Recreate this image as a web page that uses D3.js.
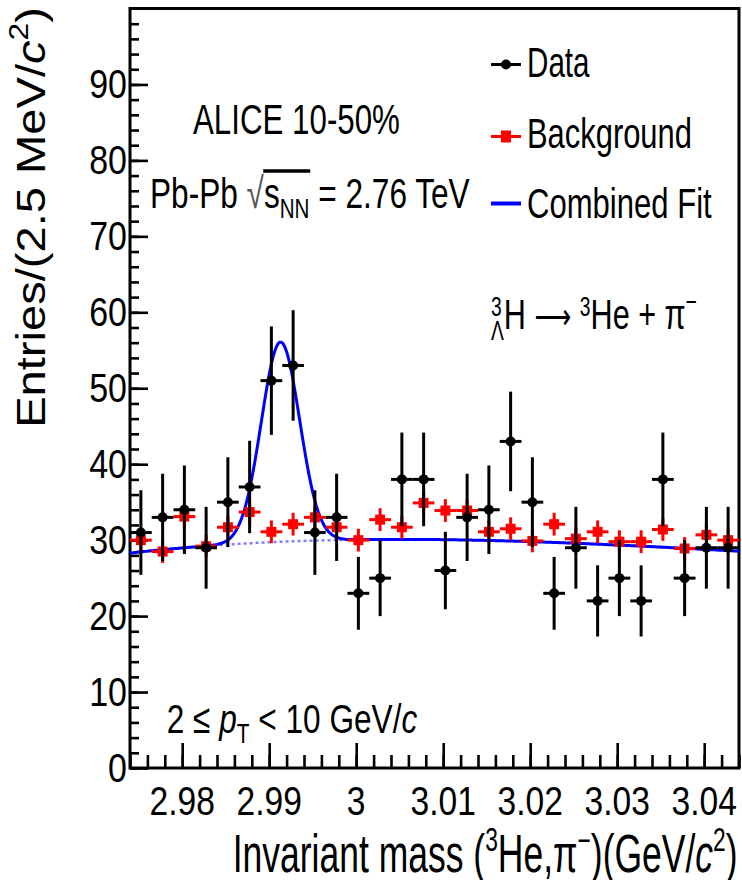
<!DOCTYPE html>
<html>
<head>
<meta charset="utf-8">
<script src="https://cdn.jsdelivr.net/npm/d3@7"></script>
<style>
body { margin: 0; background: #fff; }
text { font-family: "Liberation Sans", Arial, Helvetica, sans-serif; fill: #000; }
</style>
</head>
<body>
<svg id="chart" width="742" height="880"></svg>
<script>
// bin centres (GeV/c^2), 2.5 MeV bins
var massCenters = [2.97525, 2.97775, 2.98025, 2.98275, 2.98525, 2.98775, 2.99025, 2.99275,
                   2.99525, 2.99775, 3.00025, 3.00275, 3.00525, 3.00775, 3.01025, 3.01275,
                   3.01525, 3.01775, 3.02025, 3.02275, 3.02525, 3.02775, 3.03025, 3.03275,
                   3.03525, 3.03775, 3.04025, 3.04275];
var dataCounts = [31, 33, 34, 29, 35, 37, 51, 53, 31, 33, 23, 25, 38, 38,
                  26, 33, 34, 43, 35, 23, 29, 22, 25, 22, 38, 25, 29, 29];
var bgCounts = [30.0, 28.5, 33.1, 29.2, 31.7, 33.7, 31.1, 32.1, 33.0, 31.7, 30.0, 32.7, 31.7, 34.9,
                33.9, 33.9, 31.1, 31.5, 29.9, 32.1, 30.2, 31.1, 29.8, 29.8, 31.4, 28.9, 30.7, 30.0];
var bgErrors = [1.5, 1.5, 1.5, 1.5, 1.5, 1.5, 1.5, 1.5, 1.5, 1.5, 1.5, 1.5, 1.5, 1.5,
                1.5, 1.5, 1.5, 1.5, 1.5, 1.5, 1.5, 1.5, 1.5, 1.5, 1.5, 1.5, 1.5, 1.5];
var binWidth = 0.0025;

// combined fit: gaussian + pol3 background (v = (m - 3.005)/0.01)
var gaussPar = {mean: 2.9913, sigma: 0.0022, amp: 26.3};
var polPar = [30.1, 0.0003, -0.1495, 0.01218];

var xMajor = [2.98, 2.99, 3.00, 3.01, 3.02, 3.03, 3.04];
var xMajorLabels = ["2.98", "2.99", "3", "3.01", "3.02", "3.03", "3.04"];
var yMajor = [0, 10, 20, 30, 40, 50, 60, 70, 80, 90];

var svg = d3.select("#chart");
var padL = 130, padR = 739, padT = 8.5, padB = 768;

var x = d3.scaleLinear().domain([2.974, 3.044]).range([padL, padR]);
var y = d3.scaleLinear().domain([0, 100]).range([padB, padT]);

function bgFunc(m) {
    var v = (m - 3.005) / 0.01;
    return polPar[0] + polPar[1] * v + polPar[2] * v * v + polPar[3] * v * v * v;
}
function fitFunc(m) {
    var d = (m - gaussPar.mean) / gaussPar.sigma;
    return bgFunc(m) + gaussPar.amp * Math.exp(-0.5 * d * d);
}

// text squeezed horizontally to the width it has in the figure
function fitText(px, py, width, size, build, rotate) {
    var g = svg.append("g");
    var t = g.append("text").attr("font-size", size);
    build(t);
    var b = t.node().getBBox();
    var sx = width / b.width;
    if (rotate) {
        g.attr("transform", "translate(" + px + "," + (py + (b.x + b.width) * sx) + ") rotate(-90) scale(" + sx + ",1)");
    } else {
        g.attr("transform", "translate(" + (px - b.x * sx) + "," + py + ") scale(" + sx + ",1)");
    }
    return {g: g, t: t};
}

// ticks
var axisG = svg.append("g");
var minorX = d3.range(2.974, 3.0445, 0.002);
var minorY = d3.range(0, 100, 2);
axisG.append("g").attr("transform", "translate(0," + padB + ")")
    .call(d3.axisBottom(x).tickValues(minorX).tickSize(-13).tickFormat(""));
axisG.append("g").attr("transform", "translate(0," + padB + ")")
    .call(d3.axisBottom(x).tickValues(xMajor).tickSize(-25).tickFormat(""));
axisG.append("g").attr("transform", "translate(" + padL + ",0)")
    .call(d3.axisLeft(y).tickValues(minorY).tickSize(-9).tickFormat(""));
axisG.append("g").attr("transform", "translate(" + padL + ",0)")
    .call(d3.axisLeft(y).tickValues(yMajor).tickSize(-18).tickFormat(""));
axisG.selectAll(".domain").remove();
axisG.selectAll(".tick line").attr("stroke", "#000").attr("stroke-width", 2.6);

// frame
svg.append("rect").attr("x", padL).attr("y", padT).attr("width", padR - padL).attr("height", padB - padT)
    .attr("fill", "none").attr("stroke", "#000").attr("stroke-width", 3);

// tick labels
yMajor.forEach(function(v) {
    svg.append("text").attr("font-size", 40).attr("text-anchor", "end")
        .attr("transform", "translate(127," + (y(v) + 14) + ") scale(0.85,1)")
        .text(v);
});
xMajor.forEach(function(v, i) {
    svg.append("text").attr("font-size", 40).attr("text-anchor", "middle")
        .attr("transform", "translate(" + x(v) + ",815) scale(0.84,1)")
        .text(xMajorLabels[i]);
});

// axis titles
fitText(232.7, 872, 505, 53, function(t) {
    t.append("tspan").text("Invariant mass (");
    t.append("tspan").attr("font-size", 34).attr("dy", -21).text("3");
    t.append("tspan").attr("dy", 21).text("He,\u03c0");
    t.append("tspan").attr("font-size", 34).attr("dy", -20).text("\u2212");
    t.append("tspan").attr("dy", 20).text(")(GeV/");
    t.append("tspan").attr("font-style", "italic").text("c");
    t.append("tspan").attr("font-size", 34).attr("dy", -21).text("2");
    t.append("tspan").attr("dy", 21).text(")");
});
fitText(45, 7, 421, 40, function(t) {
    t.attr("text-anchor", "end");
    t.append("tspan").text("Entries/(2.5 MeV/");
    t.append("tspan").attr("font-style", "italic").text("c");
    t.append("tspan").attr("font-size", 27).attr("dy", -17).text("2");
    t.append("tspan").attr("dy", 17).text(")");
}, true);

// background component (dotted) and combined fit
var fine = d3.range(2.974, 3.04401, 0.0002);
svg.append("path").datum(fine)
    .attr("d", d3.line().x(function(m) { return x(m); }).y(function(m) { return y(bgFunc(m)); }))
    .attr("fill", "none").attr("stroke", "#7f7fff").attr("stroke-width", 2.5).attr("stroke-dasharray", "3,3");
svg.append("path").datum(fine)
    .attr("d", d3.line().x(function(m) { return x(m); }).y(function(m) { return y(fitFunc(m)); }))
    .attr("fill", "none").attr("stroke", "#0000ff").attr("stroke-width", 3);

// background points (red)
var half = binWidth / 2;
var bgG = svg.append("g").attr("stroke", "#ff0000").attr("fill", "#ff0000").attr("stroke-width", 3);
bgCounts.forEach(function(v, i) {
    var m = massCenters[i];
    bgG.append("line").attr("x1", x(m - half)).attr("x2", x(m + half)).attr("y1", y(v)).attr("y2", y(v));
    bgG.append("line").attr("x1", x(m)).attr("x2", x(m)).attr("y1", y(v - bgErrors[i])).attr("y2", y(v + bgErrors[i]));
    bgG.append("rect").attr("x", x(m) - 5).attr("y", y(v) - 5).attr("width", 10).attr("height", 10).attr("stroke", "none");
});

// data points (black)
var dG = svg.append("g").attr("stroke", "#000").attr("fill", "#000").attr("stroke-width", 3);
dataCounts.forEach(function(v, i) {
    var m = massCenters[i], e = Math.sqrt(v);
    dG.append("line").attr("x1", x(m - half)).attr("x2", x(m + half)).attr("y1", y(v)).attr("y2", y(v));
    dG.append("line").attr("x1", x(m)).attr("x2", x(m)).attr("y1", y(v - e)).attr("y2", y(v + e));
    dG.append("circle").attr("cx", x(m)).attr("cy", y(v)).attr("r", 5).attr("stroke", "none");
});

// legend
var legY = [64.5, 136.5, 203.5];
svg.append("line").attr("x1", 491).attr("x2", 521).attr("y1", legY[0]).attr("y2", legY[0]).attr("stroke", "#000").attr("stroke-width", 3);
svg.append("circle").attr("cx", 506).attr("cy", legY[0]).attr("r", 5).attr("fill", "#000");
svg.append("line").attr("x1", 491).attr("x2", 521).attr("y1", legY[1]).attr("y2", legY[1]).attr("stroke", "#ff0000").attr("stroke-width", 3);
svg.append("rect").attr("x", 501).attr("y", legY[1] - 6).attr("width", 10).attr("height", 12).attr("fill", "#ff0000");
svg.append("line").attr("x1", 491).attr("x2", 521).attr("y1", legY[2]).attr("y2", legY[2]).attr("stroke", "#0000ff").attr("stroke-width", 4);
fitText(527, 76.7, 63, 42, function(t) { t.text("Data"); });
fitText(527, 148.3, 165, 42, function(t) { t.text("Background"); });
fitText(527, 218.3, 185, 42, function(t) { t.text("Combined Fit"); });

// annotations
fitText(193, 134, 207, 43, function(t) { t.text("ALICE 10-50%"); });
var pb = fitText(150, 208, 320, 43, function(t) {
    t.append("tspan").text("Pb-Pb ");
    t.append("tspan").attr("fill", "#555").text("\u221a");
    t.append("tspan").text("s");
    t.append("tspan").attr("font-size", 28).attr("dy", 10).text("NN");
    t.append("tspan").attr("dy", -10).text(" = 2.76 TeV");
});
var tn = pb.t.node();
pb.g.append("line")
    .attr("x1", tn.getEndPositionOfChar(6).x - 1).attr("x2", tn.getEndPositionOfChar(9).x + 1)
    .attr("y1", -37).attr("y2", -37).attr("stroke", "#000").attr("stroke-width", 3.5);

fitText(491, 329, 206, 43, function(t) {
    t.append("tspan").attr("font-size", 27).attr("dy", -13).text("3");
    t.append("tspan").attr("font-size", 27).attr("dx", -15).attr("dy", 24).text("\u039b");
    t.append("tspan").attr("dy", -11).text("H ");
    t.append("tspan").attr("font-family", "DejaVu Sans").attr("font-size", 36).text("\u27f6");
    t.append("tspan").text(" ");
    t.append("tspan").attr("font-size", 27).attr("dy", -13).text("3");
    t.append("tspan").attr("dy", 13).text("He + \u03c0");
    t.append("tspan").attr("font-size", 27).attr("dy", -18).text("\u2212");
});

fitText(166.7, 733, 251, 41, function(t) {
    t.append("tspan").text("2 \u2264 ");
    t.append("tspan").attr("font-style", "italic").text("p");
    t.append("tspan").attr("font-size", 27).attr("dy", 10).text("T");
    t.append("tspan").attr("dy", -10).text(" < 10 GeV/");
    t.append("tspan").attr("font-style", "italic").text("c");
});
</script>
</body>
</html>
